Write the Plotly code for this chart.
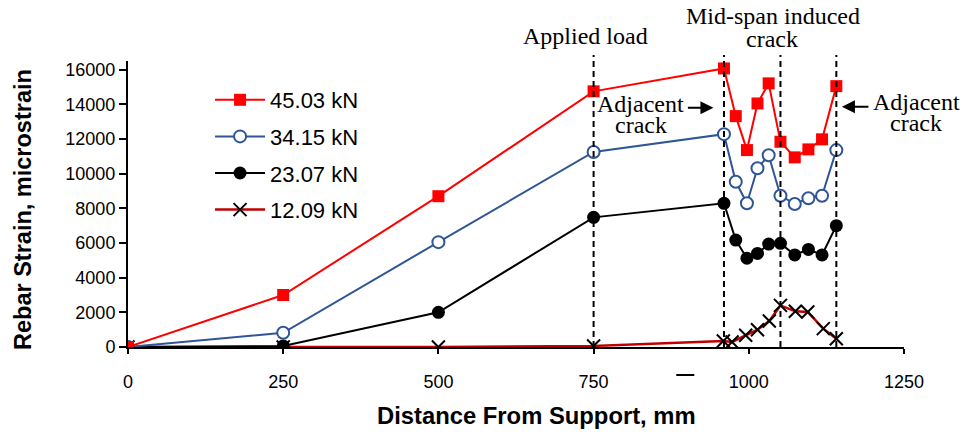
import plotly.graph_objects as go

# ---------------- data ----------------
x_main = [0, 250, 500, 750, 960, 979, 997, 1014, 1032, 1051, 1074, 1096, 1118, 1141]
x_low = [0, 250, 500, 750, 959, 973, 995, 1014, 1033, 1051, 1075, 1095, 1120, 1141]

strain_45 = [0, 3000, 8700, 14750, 16070, 13320, 11360, 14050, 15210, 11840, 10940, 11400, 11980, 15050]
strain_34 = [0, 820, 6050, 11250, 12280, 9530, 8290, 10310, 11060, 8730, 8250, 8580, 8730, 11360]
strain_23 = [0, 60, 2000, 7480, 8290, 6170, 5120, 5400, 5940, 5980, 5310, 5630, 5310, 7000]
strain_12 = [0, 0, 0, 60, 350, 290, 680, 1000, 1500, 2400, 2060, 2020, 1060, 480]

labels = ["45.03 kN", "34.15 kN", "23.07 kN", "12.09 kN"]
dashed_x = [750, 960, 1051, 1141]
x_ticks = [0, 250, 500, 750, 1000, 1250]
y_ticks = [0, 2000, 4000, 6000, 8000, 10000, 12000, 14000, 16000]

# ---------------- layout geometry ----------------
W, H = 965, 437
L, R, T, B = 128, 61.4, 61, 90
PW = W - L - R
PH = H - T - B


def px(xp):
    return (xp - L) / PW


def py(yp):
    return (H - B - yp) / PH


SANS = "Liberation Sans, Arial, sans-serif"
SERIF = "Liberation Serif, Times New Roman, serif"

fig = go.Figure()

fig.add_trace(go.Scatter(
    x=x_low, y=strain_12, name=labels[3], mode="lines+markers",
    line=dict(color="#C00000", width=2.5),
    marker=dict(symbol="x-thin", size=13, line=dict(color="black", width=2), color="black"),
    legendrank=4, legendgroup="d"))
fig.add_trace(go.Scatter(
    x=x_main, y=strain_23, name=labels[2], mode="lines+markers",
    line=dict(color="black", width=2),
    marker=dict(symbol="circle", size=13, color="black"),
    legendrank=3, legendgroup="c"))
fig.add_trace(go.Scatter(
    x=x_main, y=strain_34, name=labels[1], mode="lines+markers",
    line=dict(color="#2F5597", width=2),
    marker=dict(symbol="circle", size=12, color="white", line=dict(color="#2F5597", width=2)),
    legendrank=2, legendgroup="b"))
fig.add_trace(go.Scatter(
    x=x_main, y=strain_45, name=labels[0], mode="lines+markers",
    line=dict(color="#FF0000", width=2),
    marker=dict(symbol="square", size=12, color="#FF0000"),
    legendrank=1, legendgroup="a"))

# dashed reference lines
for xv in dashed_x:
    fig.add_shape(type="line", xref="x", yref="paper", x0=xv, x1=xv, y0=0, y1=py(55),
                  line=dict(color="black", width=2, dash="6px,4px"))

# stray short dash below the axis
fig.add_shape(type="line", xref="paper", yref="paper", x0=px(676), x1=px(694),
              y0=py(375), y1=py(375), line=dict(color="black", width=2))

ann = []


def text(t, xp, yp, size=24):
    ann.append(dict(text=t, xref="paper", yref="paper", x=px(xp), y=py(yp),
                    xanchor="center", yanchor="middle", showarrow=False,
                    font=dict(family=SERIF, size=size, color="black")))


text("Applied load", 585, 36)
text("Mid-span induced", 773, 16)
text("crack", 772, 39)
text("Adjacent", 640, 104)
text("crack", 641, 125)
text("Adjacent", 916, 102)
text("crack", 916, 123)

# arrows
ann.append(dict(text="", xref="x", yref="y", x=943, y=13800, ax=-27, ay=0,
                showarrow=True, arrowhead=2, arrowsize=1.3, arrowwidth=2, arrowcolor="black"))
ann.append(dict(text="", xref="x", yref="y", x=1150, y=13860, ax=28, ay=0,
                showarrow=True, arrowhead=2, arrowsize=1.3, arrowwidth=2, arrowcolor="black"))

# axis titles
ann.append(dict(text="<b>Rebar Strain, microstrain</b>", xref="paper", yref="paper",
                x=px(23), y=py(209), textangle=-90, showarrow=False,
                xanchor="center", yanchor="middle",
                font=dict(family=SANS, size=23.5, color="black")))
ann.append(dict(text="<b>Distance From Support, mm</b>", xref="paper", yref="paper",
                x=px(536), y=py(415), showarrow=False,
                xanchor="center", yanchor="middle",
                font=dict(family=SANS, size=23.8, color="black")))

fig.update_layout(
    width=W, height=H,
    margin=dict(l=L, r=R, t=T, b=B, pad=0),
    paper_bgcolor="white", plot_bgcolor="white",
    annotations=ann,
    showlegend=True,
    legend=dict(x=px(210), y=py(79), xanchor="left", yanchor="top",
                bgcolor="rgba(0,0,0,0)", tracegroupgap=5, itemwidth=50,
                font=dict(family=SANS, size=22, color="black")),
    xaxis=dict(range=[0, 1250], tickvals=x_ticks, ticks="outside", ticklen=5,
               tickwidth=1.5, tickcolor="black", showline=True, linecolor="black",
               linewidth=2, showgrid=False, zeroline=False, tickformat="d",
               ticklabelstandoff=12,
               tickfont=dict(family=SANS, size=18, color="black")),
    yaxis=dict(range=[0, 16500], tickvals=y_ticks, ticks="outside", ticklen=7,
               tickwidth=1.5, tickcolor="black", showline=True, linecolor="black",
               linewidth=2, showgrid=False, zeroline=False, tickformat="d",
               tickfont=dict(family=SANS, size=18, color="black")),
)

fig.write_html("out.html", config={"displayModeBar": False},
               post_script="document.body.style.margin='0';")
